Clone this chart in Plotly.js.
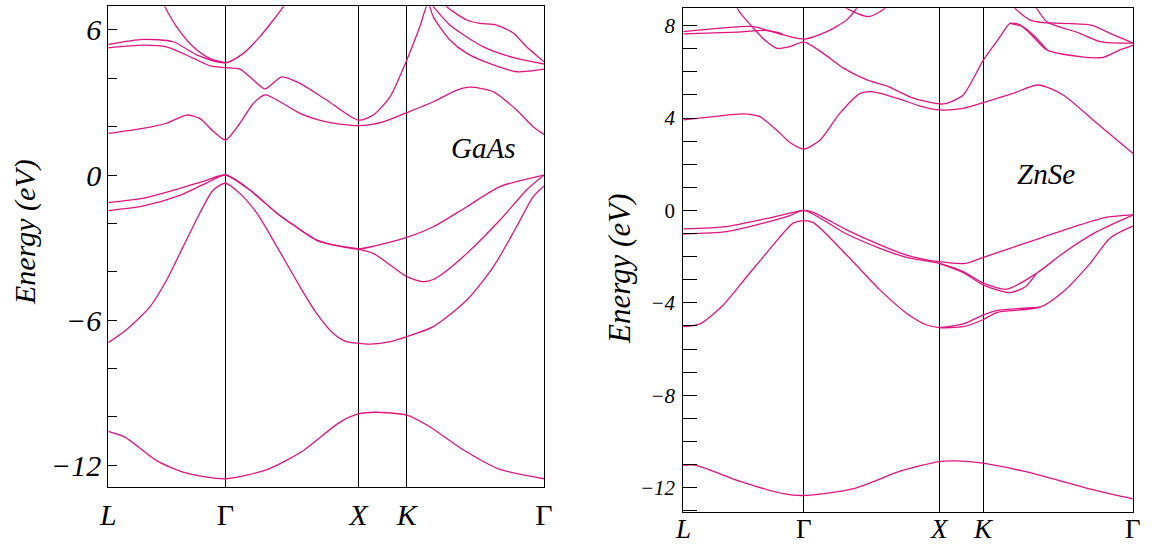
<!DOCTYPE html>
<html>
<head>
<meta charset="utf-8">
<script src="https://cdn.plot.ly/plotly-3.0.1.min.js"></script>
<style>
  body { margin: 0; background: #fff; }
  #chart { width: 1154px; height: 544px; }
</style>
</head>
<body>
<div id="chart"></div>
<script>
// k-path positions (percent of path length) and labels
var kLabels = ['<i>L</i>', 'Γ', '<i>X</i>', '<i>K</i>', 'Γ'];
var gaasKpts = [0, 26.9, 57.4, 68.5, 100];
var znseKpts = [0, 26.8, 56.9, 66.7, 100];

// GaAs bands (k in %, energy in eV)
var gaasS_k = [0, 3.8, 11.2, 17.8, 26.9, 36.6, 44.8, 53.0, 57.4, 61.2, 68.5, 73.5, 81.7, 89.9, 100];
var gaasS_e = [-10.60, -10.84, -11.82, -12.32, -12.56, -12.17, -11.39, -10.24, -9.88, -9.81, -9.93, -10.38, -11.39, -12.17, -12.56];

var gaasLV_k = [0, 3.8, 9.6, 13.4, 17.2, 21.0, 24.1, 26.9, 30.2, 34.1, 38.7, 44.0, 47.8, 51.6, 54.7, 57.4, 60.1, 64.7, 68.5, 74.6, 82.3, 88.4, 93.7, 97.5, 100];
var gaasLV_e = [-6.93, -6.45, -5.44, -4.34, -2.96, -1.58, -0.62, -0.34, -0.76, -1.58, -2.96, -4.62, -5.72, -6.54, -6.89, -6.96, -6.99, -6.89, -6.68, -6.27, -5.17, -3.79, -2.14, -0.90, -0.45];

var gaasHH1_k = [0, 7.8, 16.1, 22, 26.9, 32.5, 38.7, 42.5, 47.8, 51.6, 57.4, 61.2, 68.5, 74.6, 82.3, 89.9, 100];
var gaasHH1_e = [-1.14, -0.97, -0.57, -0.25, 0, -0.62, -1.58, -2.07, -2.69, -2.89, -3.06, -2.93, -2.58, -2.14, -1.31, -0.48, 0];

var gaasHH2_k = [0, 7.8, 16.1, 22, 26.9, 32.5, 38.7, 42.5, 47.8, 51.6, 57.4, 60.8, 64.7, 68.5, 72.3, 74.6, 76.9, 82.3, 89.9, 96, 100];
var gaasHH2_e = [-1.47, -1.29, -0.86, -0.38, 0, -0.62, -1.58, -2.07, -2.69, -2.89, -3.06, -3.24, -3.72, -4.2, -4.41, -4.32, -4.06, -3.24, -1.86, -0.62, 0];

var gaasC1_k = [0, 8, 13.4, 18, 21, 24.2, 26.9, 30.2, 33.3, 36, 39.4, 44, 50.1, 57.4, 63.1, 68.5, 74.6, 80, 83, 88.4, 93.7, 97.5, 100];
var gaasC1_e = [1.72, 1.93, 2.14, 2.48, 2.34, 1.79, 1.45, 2.14, 2.96, 3.31, 3.03, 2.55, 2.20, 2.04, 2.20, 2.58, 3.03, 3.51, 3.63, 3.44, 2.69, 2.0, 1.68];

var gaasC2_k = [0, 8, 13.4, 19.6, 23.4, 26.9, 30.2, 33.3, 36, 39.8, 44, 50.1, 57.4, 60.8, 64.7, 68.5, 71.5, 73.4, 74.6, 78.4, 82.3, 88.4, 93.7, 96.8, 100];
var gaasC2_e = [5.26, 5.37, 5.30, 4.82, 4.51, 4.44, 4.38, 3.93, 3.56, 4.06, 3.79, 3.10, 2.27, 2.48, 3.24, 4.75, 6.13, 7.1, 6.54, 5.58, 5.03, 4.55, 4.27, 4.30, 4.38];

var gaasC3_k = [0, 8, 14.9, 20.4, 26.9, 31, 34.8, 37.9, 40.2, 41.7];
var gaasC3_e = [5.40, 5.61, 5.51, 4.96, 4.64, 5.03, 5.72, 6.41, 6.96, 7.37];

var gaasC4_k = [12.3, 13, 15.7, 19.5, 23.3, 26.9];
var gaasC4_e = [7.23, 6.96, 6.13, 5.30, 4.82, 4.64];

var gaasC5_k = [72.5, 74.6, 78.4, 86.1, 93.7, 100];
var gaasC5_e = [7.4, 6.96, 6.20, 5.30, 4.82, 4.59];

var gaasC6_k = [76, 77.7, 82.3, 85.3, 89.1, 93, 96, 100];
var gaasC6_e = [7.4, 6.96, 6.41, 6.27, 6.20, 5.86, 5.30, 4.68];

// ZnSe bands
var znseS_k = [0, 2.6, 12.8, 22.2, 26.7, 37.9, 48.2, 56.8, 60.7, 66.6, 75.6, 91.4, 100];
var znseS_e = [-11.03, -11.03, -11.74, -12.26, -12.34, -12.04, -11.29, -10.87, -10.84, -10.94, -11.29, -12.11, -12.49];

var znseLV_k = [0, 3.7, 8.9, 14.1, 20, 24.4, 26.8, 28.9, 36.3, 43.7, 49.6, 54.1, 56.9, 62.2, 66.7, 69.6, 79.3, 84.4, 90.4, 94.8, 100];
var znseLV_e = [-5.03, -4.91, -4.09, -2.87, -1.49, -0.55, -0.44, -0.53, -1.93, -3.44, -4.45, -4.96, -5.07, -5.03, -4.72, -4.42, -4.19, -3.52, -2.29, -1.20, -0.67];

var znseLV2_k = [56.9, 62.2, 66.7, 69.6, 79.3];
var znseLV2_e = [-5.07, -4.91, -4.52, -4.34, -4.19];

var znseHH1_k = [0, 9.6, 17.8, 23.7, 26.8, 28.9, 36.3, 43.7, 49.6, 56.9, 62.8, 66.7, 77, 88.1, 94.1, 100];
var znseHH1_e = [-0.80, -0.70, -0.38, -0.12, 0, -0.08, -0.84, -1.49, -1.93, -2.22, -2.29, -2.03, -1.35, -0.63, -0.29, -0.19];

var znseHH2_k = [0, 9.6, 17.8, 23.7, 26.8, 36.3, 43.7, 49.6, 56.9, 62.2, 66.7, 71.9, 78.5, 84.4, 91.9, 100];
var znseHH2_e = [-1.02, -0.92, -0.55, -0.22, 0, -1.02, -1.64, -2.03, -2.29, -2.65, -3.15, -3.41, -2.72, -1.85, -0.92, -0.19];

var znseHH3_k = [56.9, 62.2, 66.7, 72.6, 76, 78.5];
var znseHH3_e = [-2.29, -2.69, -3.23, -3.56, -3.3, -2.72];

var znseC1_k = [0, 6.7, 13.3, 17, 21.5, 23.7, 26.8, 30.4, 34.8, 39.3, 41.9, 47.4, 52.6, 56.9, 62.2, 66.7, 73.3, 78.9, 84.4, 91.9, 100];
var znseC1_e = [3.92, 4.06, 4.18, 4.06, 3.34, 2.94, 2.66, 3.05, 4.21, 5.07, 5.14, 4.86, 4.52, 4.35, 4.42, 4.67, 5.07, 5.43, 5.0, 3.77, 2.45];

var znseC2_k = [11.5, 12.2, 15.6, 18.5, 20.8, 23.7, 26.8, 31.1, 35.6, 40.8, 45.2, 51.1, 56.9, 58.5, 62.2, 66.7, 70.4, 72.6, 74.8, 77, 80.8, 88.1, 93.3, 97, 100];
var znseC2_e = [9.1, 8.68, 7.89, 7.31, 7.02, 7.09, 7.3, 6.80, 6.16, 5.65, 5.39, 4.86, 4.61, 4.64, 5.0, 6.52, 7.52, 8.10, 8.03, 7.67, 6.95, 6.66, 6.63, 6.95, 7.16];

var znseC3_k = [0, 15.6, 18.5, 26.8, 31.9, 36.3, 38.5, 39.6];
var znseC3_e = [7.74, 7.96, 7.81, 7.42, 7.74, 8.25, 8.75, 9.1];

var znseC4_k = [0, 12, 18.5, 22];
var znseC4_e = [7.64, 7.72, 7.79, 7.65];

var znseC5_k = [34.5, 36.3, 41.1, 44.8, 46];
var znseC5_e = [9.1, 8.75, 8.39, 8.75, 9.1];

var znseC6_k = [72.5, 73.7, 77, 80, 90.4, 95.6, 100];
var znseC6_e = [9.1, 8.75, 8.25, 8.13, 8.03, 7.60, 7.24];

var znseC7_k = [77.5, 78.5, 80.8, 88.1, 92.6, 100];
var znseC7_e = [9.1, 8.75, 8.17, 7.67, 7.31, 7.24];

var znseC8_k = [72.6, 75.5, 78, 80.8];
var znseC8_e = [8.10, 7.95, 7.55, 6.95];

var bandColor = '#e0137f';

function band(k, e, xa, ya) {
  return {
    x: k, y: e, xaxis: xa, yaxis: ya,
    type: 'scatter', mode: 'lines',
    line: { color: bandColor, width: 1.3, shape: 'spline', smoothing: 0.7 },
    hoverinfo: 'skip'
  };
}

var data = [
  band(gaasS_k, gaasS_e, 'x', 'y'),
  band(gaasLV_k, gaasLV_e, 'x', 'y'),
  band(gaasHH1_k, gaasHH1_e, 'x', 'y'),
  band(gaasHH2_k, gaasHH2_e, 'x', 'y'),
  band(gaasC1_k, gaasC1_e, 'x', 'y'),
  band(gaasC2_k, gaasC2_e, 'x', 'y'),
  band(gaasC3_k, gaasC3_e, 'x', 'y'),
  band(gaasC4_k, gaasC4_e, 'x', 'y'),
  band(gaasC5_k, gaasC5_e, 'x', 'y'),
  band(gaasC6_k, gaasC6_e, 'x', 'y'),
  band(znseS_k, znseS_e, 'x2', 'y2'),
  band(znseLV_k, znseLV_e, 'x2', 'y2'),
  band(znseLV2_k, znseLV2_e, 'x2', 'y2'),
  band(znseHH1_k, znseHH1_e, 'x2', 'y2'),
  band(znseHH2_k, znseHH2_e, 'x2', 'y2'),
  band(znseHH3_k, znseHH3_e, 'x2', 'y2'),
  band(znseC1_k, znseC1_e, 'x2', 'y2'),
  band(znseC2_k, znseC2_e, 'x2', 'y2'),
  band(znseC3_k, znseC3_e, 'x2', 'y2'),
  band(znseC4_k, znseC4_e, 'x2', 'y2'),
  band(znseC5_k, znseC5_e, 'x2', 'y2'),
  band(znseC6_k, znseC6_e, 'x2', 'y2'),
  band(znseC7_k, znseC7_e, 'x2', 'y2'),
  band(znseC8_k, znseC8_e, 'x2', 'y2')
];

var serif = '"Liberation Serif", "Times New Roman", Times, serif';

function kAxis(domain, kpts) {
  return {
    domain: domain, range: [0, 100],
    tickvals: kpts, ticktext: kLabels, ticks: '',
    showgrid: true, gridcolor: '#000', gridwidth: 1,
    showline: true, mirror: true, linecolor: '#000', linewidth: 1,
    zeroline: false, fixedrange: true,
    ticklabelstandoff: 1,
    tickfont: { family: serif, size: 30, color: '#000' }
  };
}

var gaasTicks = [-12, -10, -8, -6, -4, -2, 0, 2, 4, 6];
var gaasTickText = ['<i>−12</i>', '', '', '<i>−6</i>', '', '', '<i>0</i>', '', '', '<i>6</i>'];
var znseTicks = [-13, -12, -11, -10, -9, -8, -7, -6, -5, -4, -3, -2, -1, 0, 1, 2, 3, 4, 5, 6, 7, 8];
var znseTickText = ['', '<i>−12</i>', '', '', '', '<i>−8</i>', '', '', '', '<i>−4</i>', '', '', '', '0', '', '', '', '<i>4</i>', '', '', '', '<i>8</i>'];

// ZnSe k-point labels are placed as annotations (the panel reaches close to the bottom edge)
var znseLabelNotes = znseKpts.map(function (k, i) {
  return {
    text: kLabels[i], xref: 'x2', yref: 'paper', x: k, y: 1 - 529 / 544,
    xanchor: 'center', yanchor: 'middle', showarrow: false,
    font: { family: serif, size: 27, color: '#000' }
  };
});

var layout = {
  width: 1154, height: 544,
  margin: { l: 0, r: 0, t: 0, b: 0 },
  paper_bgcolor: '#fff', plot_bgcolor: '#fff',
  showlegend: false,
  xaxis: kAxis([0.0938, 0.4714], gaasKpts),
  xaxis2: Object.assign(kAxis([0.5921, 0.9821], znseKpts), { anchor: 'y2', showticklabels: false }),
  yaxis: {
    domain: [0.1039, 0.9886], range: [-12.92, 6.98],
    tickvals: gaasTicks, ticktext: gaasTickText,
    ticks: 'inside', ticklen: 9, tickcolor: '#000', tickwidth: 1,
    showgrid: false, zeroline: false,
    showline: true, mirror: true, linecolor: '#000', linewidth: 1,
    fixedrange: true, ticklabelstandoff: 0,
    tickfont: { family: serif, size: 30, color: '#000' }
  },
  yaxis2: {
    domain: [0.0586, 0.9847], range: [-13.06, 8.75], anchor: 'x2',
    tickvals: znseTicks, ticktext: znseTickText,
    ticks: 'inside', ticklen: 14, tickcolor: '#000', tickwidth: 1,
    showgrid: false, zeroline: false,
    showline: true, mirror: true, linecolor: '#000', linewidth: 1,
    fixedrange: true, ticklabelstandoff: 3,
    tickfont: { family: serif, size: 21, color: '#000' }
  },
  annotations: [
    { text: '<i>Energy (eV)</i>', xref: 'paper', yref: 'paper', x: 25 / 1154, y: 1 - 232 / 544,
      xanchor: 'center', yanchor: 'middle',
      textangle: -90, showarrow: false, font: { family: serif, size: 30, color: '#000' } },
    { text: '<i>Energy (eV)</i>', xref: 'paper', yref: 'paper', x: 619 / 1154, y: 1 - 269 / 544,
      xanchor: 'center', yanchor: 'middle',
      textangle: -90, showarrow: false, font: { family: serif, size: 31, color: '#000' } },
    { text: '<i>GaAs</i>', xref: 'paper', yref: 'paper', x: 483 / 1154, y: 1 - 148 / 544,
      xanchor: 'center', yanchor: 'middle',
      showarrow: false, font: { family: serif, size: 29, color: '#000' } },
    { text: '<i>ZnSe</i>', xref: 'paper', yref: 'paper', x: 1046 / 1154, y: 1 - 174 / 544,
      xanchor: 'center', yanchor: 'middle',
      showarrow: false, font: { family: serif, size: 29, color: '#000' } }
  ].concat(znseLabelNotes)
};

var config = { displayModeBar: false, staticPlot: true };

Plotly.newPlot('chart', data, layout, config);
</script>
</body>
</html>
